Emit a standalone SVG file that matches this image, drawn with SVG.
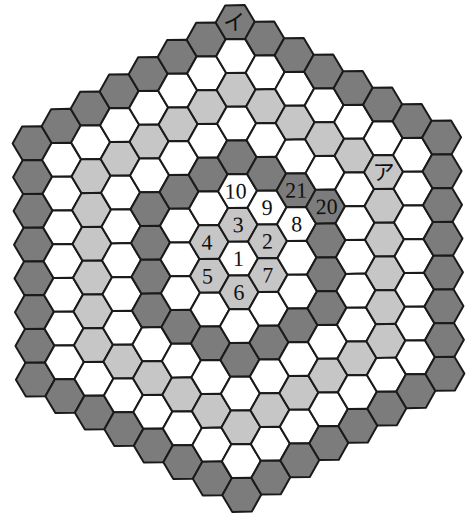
<svg xmlns="http://www.w3.org/2000/svg" xmlns:xlink="http://www.w3.org/1999/xlink" width="469" height="520" viewBox="0 0 469 520">
<style>
.w{fill:#ffffff}.l{fill:#c6c6c6}.d{fill:#7c7c7c}
use{stroke:#1a1a1a;stroke-width:2;stroke-linejoin:round}
text{font-family:"Liberation Serif","Noto Sans CJK JP",serif;font-size:22px;fill:#111;text-anchor:middle}
</style>
<defs>
<polygon id="hx" points="19.5,0 9.75,16.89 -9.75,16.89 -19.5,0 -9.75,-16.89 9.75,-16.89"/>
</defs>
<rect width="469" height="520" fill="#fff"/>
<g id="grid" transform="translate(238.5,258.5) rotate(-0.8)">
<!-- q=-7 -->
<g id="c-7_-7"><use href="#hx" class="d" x="-204.75" y="-118.2"/></g>
<g id="c-7_-5"><use href="#hx" class="d" x="-204.75" y="-84.43"/></g>
<g id="c-7_-3"><use href="#hx" class="d" x="-204.75" y="-50.66"/></g>
<g id="c-7_-1"><use href="#hx" class="d" x="-204.75" y="-16.89"/></g>
<g id="c-7_1"><use href="#hx" class="d" x="-204.75" y="16.89"/></g>
<g id="c-7_3"><use href="#hx" class="d" x="-204.75" y="50.66"/></g>
<g id="c-7_5"><use href="#hx" class="d" x="-204.75" y="84.43"/></g>
<g id="c-7_7"><use href="#hx" class="d" x="-204.75" y="118.2"/></g>
<!-- q=-6 -->
<g id="c-6_-8"><use href="#hx" class="d" x="-175.5" y="-135.08"/></g>
<g id="c-6_-6"><use href="#hx" class="w" x="-175.5" y="-101.31"/></g>
<g id="c-6_-4"><use href="#hx" class="w" x="-175.5" y="-67.54"/></g>
<g id="c-6_-2"><use href="#hx" class="w" x="-175.5" y="-33.77"/></g>
<g id="c-6_0"><use href="#hx" class="w" x="-175.5" y="0"/></g>
<g id="c-6_2"><use href="#hx" class="w" x="-175.5" y="33.77"/></g>
<g id="c-6_4"><use href="#hx" class="w" x="-175.5" y="67.54"/></g>
<g id="c-6_6"><use href="#hx" class="w" x="-175.5" y="101.31"/></g>
<g id="c-6_8"><use href="#hx" class="d" x="-175.5" y="135.08"/></g>
<!-- q=-5 -->
<g id="c-5_-9"><use href="#hx" class="d" x="-146.25" y="-151.97"/></g>
<g id="c-5_-7"><use href="#hx" class="w" x="-146.25" y="-118.2"/></g>
<g id="c-5_-5"><use href="#hx" class="l" x="-146.25" y="-84.43"/></g>
<g id="c-5_-3"><use href="#hx" class="l" x="-146.25" y="-50.66"/></g>
<g id="c-5_-1"><use href="#hx" class="l" x="-146.25" y="-16.89"/></g>
<g id="c-5_1"><use href="#hx" class="l" x="-146.25" y="16.89"/></g>
<g id="c-5_3"><use href="#hx" class="l" x="-146.25" y="50.66"/></g>
<g id="c-5_5"><use href="#hx" class="l" x="-146.25" y="84.43"/></g>
<g id="c-5_7"><use href="#hx" class="w" x="-146.25" y="118.2"/></g>
<g id="c-5_9"><use href="#hx" class="d" x="-146.25" y="151.97"/></g>
<!-- q=-4 -->
<g id="c-4_-10"><use href="#hx" class="d" x="-117" y="-168.85"/></g>
<g id="c-4_-8"><use href="#hx" class="w" x="-117" y="-135.08"/></g>
<g id="c-4_-6"><use href="#hx" class="l" x="-117" y="-101.31"/></g>
<g id="c-4_-4"><use href="#hx" class="w" x="-117" y="-67.54"/></g>
<g id="c-4_-2"><use href="#hx" class="w" x="-117" y="-33.77"/></g>
<g id="c-4_0"><use href="#hx" class="w" x="-117" y="0"/></g>
<g id="c-4_2"><use href="#hx" class="w" x="-117" y="33.77"/></g>
<g id="c-4_4"><use href="#hx" class="w" x="-117" y="67.54"/></g>
<g id="c-4_6"><use href="#hx" class="l" x="-117" y="101.31"/></g>
<g id="c-4_8"><use href="#hx" class="w" x="-117" y="135.08"/></g>
<g id="c-4_10"><use href="#hx" class="d" x="-117" y="168.85"/></g>
<!-- q=-3 -->
<g id="c-3_-11"><use href="#hx" class="d" x="-87.75" y="-185.74"/></g>
<g id="c-3_-9"><use href="#hx" class="w" x="-87.75" y="-151.97"/></g>
<g id="c-3_-7"><use href="#hx" class="l" x="-87.75" y="-118.2"/></g>
<g id="c-3_-5"><use href="#hx" class="w" x="-87.75" y="-84.43"/></g>
<g id="c-3_-3"><use href="#hx" class="d" x="-87.75" y="-50.66"/></g>
<g id="c-3_-1"><use href="#hx" class="d" x="-87.75" y="-16.89"/></g>
<g id="c-3_1"><use href="#hx" class="d" x="-87.75" y="16.89"/></g>
<g id="c-3_3"><use href="#hx" class="d" x="-87.75" y="50.66"/></g>
<g id="c-3_5"><use href="#hx" class="w" x="-87.75" y="84.43"/></g>
<g id="c-3_7"><use href="#hx" class="l" x="-87.75" y="118.2"/></g>
<g id="c-3_9"><use href="#hx" class="w" x="-87.75" y="151.97"/></g>
<g id="c-3_11"><use href="#hx" class="d" x="-87.75" y="185.74"/></g>
<!-- q=-2 -->
<g id="c-2_-12"><use href="#hx" class="d" x="-58.5" y="-202.62"/></g>
<g id="c-2_-10"><use href="#hx" class="w" x="-58.5" y="-168.85"/></g>
<g id="c-2_-8"><use href="#hx" class="l" x="-58.5" y="-135.08"/></g>
<g id="c-2_-6"><use href="#hx" class="w" x="-58.5" y="-101.31"/></g>
<g id="c-2_-4"><use href="#hx" class="d" x="-58.5" y="-67.54"/></g>
<g id="c-2_-2"><use href="#hx" class="w" x="-58.5" y="-33.77"/></g>
<g id="c-2_0"><use href="#hx" class="w" x="-58.5" y="0"/></g>
<g id="c-2_2"><use href="#hx" class="w" x="-58.5" y="33.77"/></g>
<g id="c-2_4"><use href="#hx" class="d" x="-58.5" y="67.54"/></g>
<g id="c-2_6"><use href="#hx" class="w" x="-58.5" y="101.31"/></g>
<g id="c-2_8"><use href="#hx" class="l" x="-58.5" y="135.08"/></g>
<g id="c-2_10"><use href="#hx" class="w" x="-58.5" y="168.85"/></g>
<g id="c-2_12"><use href="#hx" class="d" x="-58.5" y="202.62"/></g>
<!-- q=-1 -->
<g id="c-1_-13"><use href="#hx" class="d" x="-29.25" y="-219.51"/></g>
<g id="c-1_-11"><use href="#hx" class="w" x="-29.25" y="-185.74"/></g>
<g id="c-1_-9"><use href="#hx" class="l" x="-29.25" y="-151.97"/></g>
<g id="c-1_-7"><use href="#hx" class="w" x="-29.25" y="-118.2"/></g>
<g id="c-1_-5"><use href="#hx" class="d" x="-29.25" y="-84.43"/></g>
<g id="c-1_-3"><use href="#hx" class="w" x="-29.25" y="-50.66"/></g>
<g id="c-1_-1"><use href="#hx" class="l" x="-29.25" y="-16.89"/><text x="-31.25" y="-9.39">4</text></g>
<g id="c-1_1"><use href="#hx" class="l" x="-29.25" y="16.89"/><text x="-31.25" y="24.39">5</text></g>
<g id="c-1_3"><use href="#hx" class="w" x="-29.25" y="50.66"/></g>
<g id="c-1_5"><use href="#hx" class="d" x="-29.25" y="84.43"/></g>
<g id="c-1_7"><use href="#hx" class="w" x="-29.25" y="118.2"/></g>
<g id="c-1_9"><use href="#hx" class="l" x="-29.25" y="151.97"/></g>
<g id="c-1_11"><use href="#hx" class="w" x="-29.25" y="185.74"/></g>
<g id="c-1_13"><use href="#hx" class="d" x="-29.25" y="219.51"/></g>
<!-- q=0 -->
<g id="c0_-14"><use href="#hx" class="d" x="0" y="-236.39"/><text x="-1" y="-228.39">イ</text></g>
<g id="c0_-12"><use href="#hx" class="w" x="0" y="-202.62"/></g>
<g id="c0_-10"><use href="#hx" class="l" x="0" y="-168.85"/></g>
<g id="c0_-8"><use href="#hx" class="w" x="0" y="-135.08"/></g>
<g id="c0_-6"><use href="#hx" class="d" x="0" y="-101.31"/></g>
<g id="c0_-4"><use href="#hx" class="w" x="0" y="-67.54"/><text x="-2" y="-60.04">10</text></g>
<g id="c0_-2"><use href="#hx" class="l" x="0" y="-33.77"/><text x="0" y="-26.27">3</text></g>
<g id="c0_0"><use href="#hx" class="w" x="0" y="0"/><text x="0" y="7.5">1</text></g>
<g id="c0_2"><use href="#hx" class="l" x="0" y="33.77"/><text x="0" y="41.27">6</text></g>
<g id="c0_4"><use href="#hx" class="w" x="0" y="67.54"/></g>
<g id="c0_6"><use href="#hx" class="d" x="0" y="101.31"/></g>
<g id="c0_8"><use href="#hx" class="w" x="0" y="135.08"/></g>
<g id="c0_10"><use href="#hx" class="l" x="0" y="168.85"/></g>
<g id="c0_12"><use href="#hx" class="w" x="0" y="202.62"/></g>
<g id="c0_14"><use href="#hx" class="d" x="0" y="236.39"/></g>
<!-- q=1 -->
<g id="c1_-13"><use href="#hx" class="d" x="29.25" y="-219.51"/></g>
<g id="c1_-11"><use href="#hx" class="w" x="29.25" y="-185.74"/></g>
<g id="c1_-9"><use href="#hx" class="l" x="29.25" y="-151.97"/></g>
<g id="c1_-7"><use href="#hx" class="w" x="29.25" y="-118.2"/></g>
<g id="c1_-5"><use href="#hx" class="d" x="29.25" y="-84.43"/></g>
<g id="c1_-3"><use href="#hx" class="w" x="29.25" y="-50.66"/><text x="29.25" y="-43.16">9</text></g>
<g id="c1_-1"><use href="#hx" class="l" x="29.25" y="-16.89"/><text x="29.25" y="-9.39">2</text></g>
<g id="c1_1"><use href="#hx" class="l" x="29.25" y="16.89"/><text x="29.25" y="24.39">7</text></g>
<g id="c1_3"><use href="#hx" class="w" x="29.25" y="50.66"/></g>
<g id="c1_5"><use href="#hx" class="d" x="29.25" y="84.43"/></g>
<g id="c1_7"><use href="#hx" class="w" x="29.25" y="118.2"/></g>
<g id="c1_9"><use href="#hx" class="l" x="29.25" y="151.97"/></g>
<g id="c1_11"><use href="#hx" class="w" x="29.25" y="185.74"/></g>
<g id="c1_13"><use href="#hx" class="d" x="29.25" y="219.51"/></g>
<!-- q=2 -->
<g id="c2_-12"><use href="#hx" class="d" x="58.5" y="-202.62"/></g>
<g id="c2_-10"><use href="#hx" class="w" x="58.5" y="-168.85"/></g>
<g id="c2_-8"><use href="#hx" class="l" x="58.5" y="-135.08"/></g>
<g id="c2_-6"><use href="#hx" class="w" x="58.5" y="-101.31"/></g>
<g id="c2_-4"><use href="#hx" class="d" x="58.5" y="-67.54"/><text x="58.5" y="-60.04">21</text></g>
<g id="c2_-2"><use href="#hx" class="w" x="58.5" y="-33.77"/><text x="58.5" y="-26.27">8</text></g>
<g id="c2_0"><use href="#hx" class="w" x="58.5" y="0"/></g>
<g id="c2_2"><use href="#hx" class="w" x="58.5" y="33.77"/></g>
<g id="c2_4"><use href="#hx" class="d" x="58.5" y="67.54"/></g>
<g id="c2_6"><use href="#hx" class="w" x="58.5" y="101.31"/></g>
<g id="c2_8"><use href="#hx" class="l" x="58.5" y="135.08"/></g>
<g id="c2_10"><use href="#hx" class="w" x="58.5" y="168.85"/></g>
<g id="c2_12"><use href="#hx" class="d" x="58.5" y="202.62"/></g>
<!-- q=3 -->
<g id="c3_-11"><use href="#hx" class="d" x="87.75" y="-185.74"/></g>
<g id="c3_-9"><use href="#hx" class="w" x="87.75" y="-151.97"/></g>
<g id="c3_-7"><use href="#hx" class="l" x="87.75" y="-118.2"/></g>
<g id="c3_-5"><use href="#hx" class="w" x="87.75" y="-84.43"/></g>
<g id="c3_-3"><use href="#hx" class="d" x="87.75" y="-50.66"/><text x="88.75" y="-43.16">20</text></g>
<g id="c3_-1"><use href="#hx" class="d" x="87.75" y="-16.89"/></g>
<g id="c3_1"><use href="#hx" class="d" x="87.75" y="16.89"/></g>
<g id="c3_3"><use href="#hx" class="d" x="87.75" y="50.66"/></g>
<g id="c3_5"><use href="#hx" class="w" x="87.75" y="84.43"/></g>
<g id="c3_7"><use href="#hx" class="l" x="87.75" y="118.2"/></g>
<g id="c3_9"><use href="#hx" class="w" x="87.75" y="151.97"/></g>
<g id="c3_11"><use href="#hx" class="d" x="87.75" y="185.74"/></g>
<!-- q=4 -->
<g id="c4_-10"><use href="#hx" class="d" x="117" y="-168.85"/></g>
<g id="c4_-8"><use href="#hx" class="w" x="117" y="-135.08"/></g>
<g id="c4_-6"><use href="#hx" class="l" x="117" y="-101.31"/></g>
<g id="c4_-4"><use href="#hx" class="w" x="117" y="-67.54"/></g>
<g id="c4_-2"><use href="#hx" class="w" x="117" y="-33.77"/></g>
<g id="c4_0"><use href="#hx" class="w" x="117" y="0"/></g>
<g id="c4_2"><use href="#hx" class="w" x="117" y="33.77"/></g>
<g id="c4_4"><use href="#hx" class="w" x="117" y="67.54"/></g>
<g id="c4_6"><use href="#hx" class="l" x="117" y="101.31"/></g>
<g id="c4_8"><use href="#hx" class="w" x="117" y="135.08"/></g>
<g id="c4_10"><use href="#hx" class="d" x="117" y="168.85"/></g>
<!-- q=5 -->
<g id="c5_-9"><use href="#hx" class="d" x="146.25" y="-151.97"/></g>
<g id="c5_-7"><use href="#hx" class="w" x="146.25" y="-118.2"/></g>
<g id="c5_-5"><use href="#hx" class="l" x="146.25" y="-84.43"/><text x="146.25" y="-76.43">ア</text></g>
<g id="c5_-3"><use href="#hx" class="l" x="146.25" y="-50.66"/></g>
<g id="c5_-1"><use href="#hx" class="l" x="146.25" y="-16.89"/></g>
<g id="c5_1"><use href="#hx" class="l" x="146.25" y="16.89"/></g>
<g id="c5_3"><use href="#hx" class="l" x="146.25" y="50.66"/></g>
<g id="c5_5"><use href="#hx" class="l" x="146.25" y="84.43"/></g>
<g id="c5_7"><use href="#hx" class="w" x="146.25" y="118.2"/></g>
<g id="c5_9"><use href="#hx" class="d" x="146.25" y="151.97"/></g>
<!-- q=6 -->
<g id="c6_-8"><use href="#hx" class="d" x="175.5" y="-135.08"/></g>
<g id="c6_-6"><use href="#hx" class="w" x="175.5" y="-101.31"/></g>
<g id="c6_-4"><use href="#hx" class="w" x="175.5" y="-67.54"/></g>
<g id="c6_-2"><use href="#hx" class="w" x="175.5" y="-33.77"/></g>
<g id="c6_0"><use href="#hx" class="w" x="175.5" y="0"/></g>
<g id="c6_2"><use href="#hx" class="w" x="175.5" y="33.77"/></g>
<g id="c6_4"><use href="#hx" class="w" x="175.5" y="67.54"/></g>
<g id="c6_6"><use href="#hx" class="w" x="175.5" y="101.31"/></g>
<g id="c6_8"><use href="#hx" class="d" x="175.5" y="135.08"/></g>
<!-- q=7 -->
<g id="c7_-7"><use href="#hx" class="d" x="204.75" y="-118.2"/></g>
<g id="c7_-5"><use href="#hx" class="d" x="204.75" y="-84.43"/></g>
<g id="c7_-3"><use href="#hx" class="d" x="204.75" y="-50.66"/></g>
<g id="c7_-1"><use href="#hx" class="d" x="204.75" y="-16.89"/></g>
<g id="c7_1"><use href="#hx" class="d" x="204.75" y="16.89"/></g>
<g id="c7_3"><use href="#hx" class="d" x="204.75" y="50.66"/></g>
<g id="c7_5"><use href="#hx" class="d" x="204.75" y="84.43"/></g>
<g id="c7_7"><use href="#hx" class="d" x="204.75" y="118.2"/></g>
</g>
<g id="connectors"/>
</svg>
